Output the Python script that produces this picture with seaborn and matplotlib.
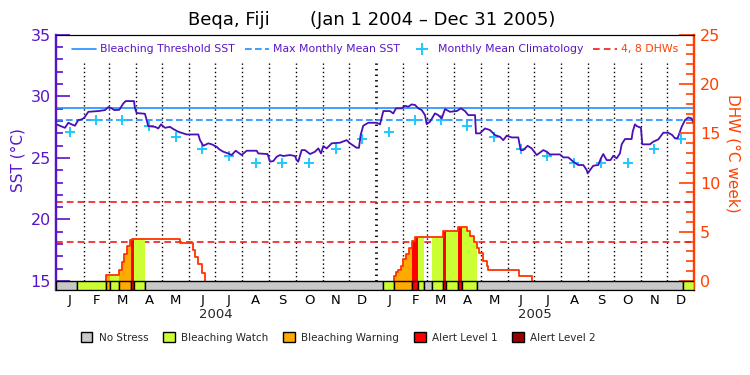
import numpy as np
import pandas as pd
import seaborn as sns
import matplotlib.pyplot as plt
from matplotlib.lines import Line2D
from matplotlib.patches import Patch

# --- data (x values are days since 2004-01-01) ---
sst_day = [0, 9.7, 13.6, 17.4, 21.2, 25, 28.9, 31.9, 36.5, 48, 55.6, 59.4, 63.2, 66.3, 72,
           76.6, 79.3, 88.8, 90, 91.9, 101.4, 103.4, 105.2, 112.9, 116.7, 119.8, 124.4, 130,
           134, 139.6, 149.2, 162.5, 164.5, 168.3, 174, 177.9, 183.6, 186.6, 191.2, 196.9,
           200.8, 205.4, 212.2, 218, 229.4, 231.3, 242, 244.7, 248.5, 252.4, 256.2, 260,
           267.6, 273.4, 275.3, 277.1, 281, 284.8, 290.6, 296.3, 300.1, 303.2, 305.8, 309.7,
           315.4, 324.9, 332.6, 336.4, 344, 346.7, 348.6, 351.6, 357.4, 367, 370.8, 374.6,
           382.2, 386, 389.1, 395.6, 399.4, 403.2, 407.1, 411, 414.7, 418.6, 422.4, 424.3,
           428.1, 433.8, 437.6, 441.5, 445.3, 451, 458.7, 463.6, 468.2, 472, 479.7, 480.8,
           485.4, 491.1, 496.8, 502.6, 508.3, 512.1, 516, 521.7, 529.3, 532, 535, 540, 544.6,
           550.4, 558, 561.8, 565.6, 577, 580.9, 586.6, 592.3, 598, 603.8, 607.7, 608.8,
           611.5, 615.2, 621, 624, 626.7, 630.6, 635, 638.2, 642, 645.8, 647.8, 651.6, 659.2,
           660.4, 663, 665, 669.9, 671.4, 680.2, 684, 689.8, 695.5, 701.2, 705.8, 708.9, 712,
           716.6, 720.4, 724.2, 728, 731]
sst_val = [27.72, 27.44, 27.85, 27.72, 27.61, 28.07, 28.12, 28.26, 28.74, 28.8, 28.88, 29.12,
           29.02, 28.88, 28.9, 29.42, 29.61, 29.61, 29.02, 28.64, 28.58, 28.07, 27.58, 27.52,
           27.39, 27.72, 27.44, 27.52, 27.34, 27.12, 26.9, 26.9, 26.44, 25.98, 26.18, 26.1,
           25.9, 25.69, 25.5, 25.36, 25.23, 25.58, 25.23, 25.58, 25.58, 25.36, 25.31, 24.69,
           24.74, 25.09, 25.23, 25.15, 25.23, 25.15, 24.82, 24.69, 25.63, 25.63, 25.31, 25.5,
           25.77, 25.36, 25.96, 25.77, 26.18, 26.23, 26.44, 26.18, 25.82, 25.82, 26.85, 27.61,
           27.85, 27.85, 27.72, 28.8, 28.8, 28.61, 29.02, 29.02, 29.23, 29.15, 29.34, 29.29,
           29.02, 28.88, 28.47, 27.74, 27.93, 28.61, 28.47, 28.2, 28.96, 28.74, 28.8, 29.02,
           28.8, 28.47, 28.47, 26.99, 26.99, 27.39, 27.26, 26.85, 26.71, 26.44, 26.8, 26.66,
           26.66, 25.63, 25.63, 25.98, 25.77, 25.23, 25.63, 25.5, 25.28, 25.28, 25.04, 25.04,
           24.69, 24.42, 24.42, 24.01, 23.74, 24.01, 24.36, 24.42, 24.96, 25.31, 24.82, 24.82,
           25.17, 24.96, 25.36, 26.1, 26.53, 26.53, 27.12, 27.72, 27.58, 27.44, 26.1, 26.1,
           26.31, 26.5, 27.04, 27.04, 26.85, 26.58, 26.62, 27.52, 28.07, 28.28, 28.2, 27.66]

clim_val = [27.12, 28.07, 28.07, 27.61, 26.71, 25.71, 25.17, 24.55, 24.55, 24.55, 25.69, 26.53]
mmm = 28.07
threshold = 29.07

dhw_day = [0, 56.7, 72, 74.8, 77.5, 80.4, 84.2, 86, 141.5, 156, 158.7, 162.5, 166.3, 170.2,
           386.8, 389, 391.7, 394.4, 397.5, 400.5, 404.3, 407.8, 410.9, 443.3, 460.5, 471,
           474, 478, 481.6, 484.7, 489.3, 493, 495, 530, 545, 731]
dhw_val = [0, 0.64, 1.12, 1.89, 2.74, 3.59, 4.2, 4.27, 3.82, 3.15, 2.47, 1.73, 0.77, 0,
           0.47, 0.88, 1.15, 1.55, 2.23, 2.74, 3.35, 4.1, 4.47, 5.04, 5.45, 5.04,
           4.53, 4.0, 3.35, 2.85, 2.06, 1.55, 1.12, 0.54, 0, 0]

stress_edges = [0, 23.1, 56.7, 61.3, 72, 85.4, 89.2, 101.4, 373.9, 386.8, 407.8, 414.7,
                421.6, 430, 443.3, 446.1, 460.5, 464.4, 481.6, 718.4, 731]
stress_levels = [0, 1, 2, 1, 2, 3, 1, 0, 1, 2, 3, 1, 0, 1, 3, 1, 3, 1, 0, 1]
stress_names = ["No Stress", "Bleaching Watch", "Bleaching Warning", "Alert Level 1", "Alert Level 2"]
stress_colors = ["#c8c8c8", "#ccff33", "#ffaa00", "#ff0000", "#990000"]

month_letters = list("JFMAMJJASOND")
years = ["2004", "2005"]

# --- style ---
sns.set_style("white")
plt.rcParams['font.family'] = ['DejaVu Sans']
purple = "#5a14c8"
orange = "#ff4000"
blue = "#1e90ff"
cyan = "#1ec8ff"
red = "#ee1c1c"
mmm_dash = (0, (4, 2))
dhw_dash = (0, (4, 2.5))

months = pd.date_range("2004-01-01", "2006-01-01", freq="MS")
month_day = np.array((months - months[0]).days, dtype=float)
mid_day = (month_day[:-1] + month_day[1:]) / 2
end_day = month_day[-1]

fig = plt.figure(figsize=(7.5, 3.75), dpi=100)
ax1 = fig.add_axes([0.0753, 0.2259, 0.8504, 0.6816])
ax2 = ax1.twinx()
sst_low = 14.25
dhw_low = (sst_low - 15) * 1.25
ax1.set_ylim(sst_low, 35)
ax2.set_ylim(dhw_low, 25)
ax1.set_xlim(0, end_day)

# month dividers (year boundary drawn doubled)
for d in month_day[1:-1]:
    if d == month_day[12]:
        ax1.vlines(d, 15, 32.7, colors="black", linestyles=(0, (0.5, 1.5)), lw=2, zorder=1)
    else:
        ax1.vlines(d, 15, 32.7, colors="black", linestyles=(0, (1, 2)), lw=1, zorder=1)

ax1.axhline(threshold, color=blue, lw=1.2, zorder=2)
ax1.axhline(mmm, color=blue, lw=1.2, ls=mmm_dash, zorder=2)

sns.scatterplot(x=mid_day, y=clim_val * 2, marker="+", s=60, color=cyan,
                linewidth=1.4, ax=ax1, zorder=3)
sns.lineplot(x=sst_day, y=sst_val, ax=ax1, color="#4b0fb4", lw=1.3,
             estimator=None, sort=False, zorder=4)

# DHW panel
ax2.axhline(4, color=red, lw=1.2, ls=dhw_dash, zorder=2)
ax2.axhline(8, color=red, lw=1.2, ls=dhw_dash, zorder=2)

dd = np.array(dhw_day)
dv = np.array(dhw_val)
for a, b, lev in zip(stress_edges[:-1], stress_edges[1:], stress_levels):
    if lev == 0:
        continue
    xs = np.concatenate([[a], dd[(dd > a) & (dd < b)], [b]])
    ys = dv[np.searchsorted(dd, xs, side="right") - 1]
    ax2.fill_between(xs, 0, ys, step="post", color=stress_colors[lev], lw=0, zorder=3)

# DHW outline only where there is heat stress (no line along zero)
line_x, line_y = [], []
for i in range(len(dd)):
    prev = dv[i - 1] if i > 0 else 0
    if dv[i] > 0 and prev == 0:
        line_x.append(dd[i]); line_y.append(0)
    if dv[i] == 0 and prev == 0:
        line_x.append(dd[i]); line_y.append(np.nan)
    elif dv[i] == 0:
        line_x += [dd[i], dd[i]]; line_y += [0, np.nan]
    else:
        line_x.append(dd[i]); line_y.append(dv[i])
ax2.step(line_x, line_y, where="post", color="#ff3300", lw=1.3, zorder=4)

widths = np.diff(stress_edges)
ax2.bar(stress_edges[:-1], [-dhw_low] * len(widths), width=widths, bottom=dhw_low,
        align="edge", color=[stress_colors[l] for l in stress_levels],
        edgecolor="black", lw=1, zorder=5)

# axes cosmetics
ax1.set_yticks([15, 20, 25, 30, 35])
ax1.set_yticks(np.arange(15, 36, 1), minor=True)
ax1.tick_params(axis="y", which="major", direction="in", length=10, width=1.2,
                color=purple, labelcolor=purple, labelsize=11.5, pad=4)
ax1.tick_params(axis="y", which="minor", direction="in", length=5, width=1.2, color=purple)
ax2.set_yticks([0, 5, 10, 15, 20, 25])
ax2.set_yticks(np.arange(0, 26, 1), minor=True)
ax2.tick_params(axis="y", which="major", direction="in", length=11, width=1.2,
                color=orange, labelcolor=orange, labelsize=11.5, pad=4)
ax2.tick_params(axis="y", which="minor", direction="in", length=6, width=1.2, color=orange)

ax1.set_xticks(mid_day)
ax1.set_xticklabels(month_letters * 2)
ax1.tick_params(axis="x", length=0, labelsize=9.5, pad=3, labelcolor="black")
for i, yr in enumerate(years):
    ax1.text((month_day[12 * i] + month_day[12 * i + 12]) / 2, -0.095, yr,
             transform=ax1.get_xaxis_transform(), ha="center", va="center", fontsize=9.5)

for ax in (ax1, ax2):
    ax.spines["top"].set_color("black")
    ax.spines["bottom"].set_color("black")
    ax.spines["left"].set_color(purple)
    ax.spines["left"].set_linewidth(1.6)
    ax.spines["right"].set_color(orange)
    ax.spines["right"].set_linewidth(1.6)

# legends
handles = [Line2D([], [], color=blue, lw=1.2),
           Line2D([], [], color=blue, lw=1.2, ls=mmm_dash),
           Line2D([], [], color=cyan, marker="+", ls="none", markersize=9, mew=1.4),
           Line2D([], [], color=red, lw=1.2, ls=dhw_dash)]
labels = ["Bleaching Threshold SST", "Max Monthly Mean SST", "Monthly Mean Climatology", "4, 8 DHWs"]
leg = ax2.legend(handles, labels, loc="upper center", bbox_to_anchor=(0.5, 1.0), ncol=4,
                 frameon=False, fontsize=7.8, handlelength=2.2, columnspacing=0.9,
                 handletextpad=0.4)
for t, c in zip(leg.get_texts(), [purple, purple, purple, orange]):
    t.set_color(c)

patches = [Patch(facecolor=c, edgecolor="black", lw=1) for c in stress_colors]
fig.legend(patches, stress_names, loc="center", bbox_to_anchor=(0.451, 0.1), ncol=5,
           frameon=False, fontsize=7.5, handlelength=1.15, handleheight=1.05,
           handletextpad=0.6, columnspacing=1.4)

fig.text(0.496, 0.947, "Beqa, Fiji       (Jan 1 2004 \u2013 Dec 31 2005)", ha="center",
         va="center", fontsize=13, color="black")
fig.text(0.024, 0.573, "SST (\u00b0C)", rotation=90, ha="center", va="center",
         fontsize=11, color=purple)
fig.text(0.977, 0.59, "DHW (\u00b0C week)", rotation=270, ha="center", va="center",
         fontsize=11, color=orange)

fig.savefig("out.png", dpi=100)
